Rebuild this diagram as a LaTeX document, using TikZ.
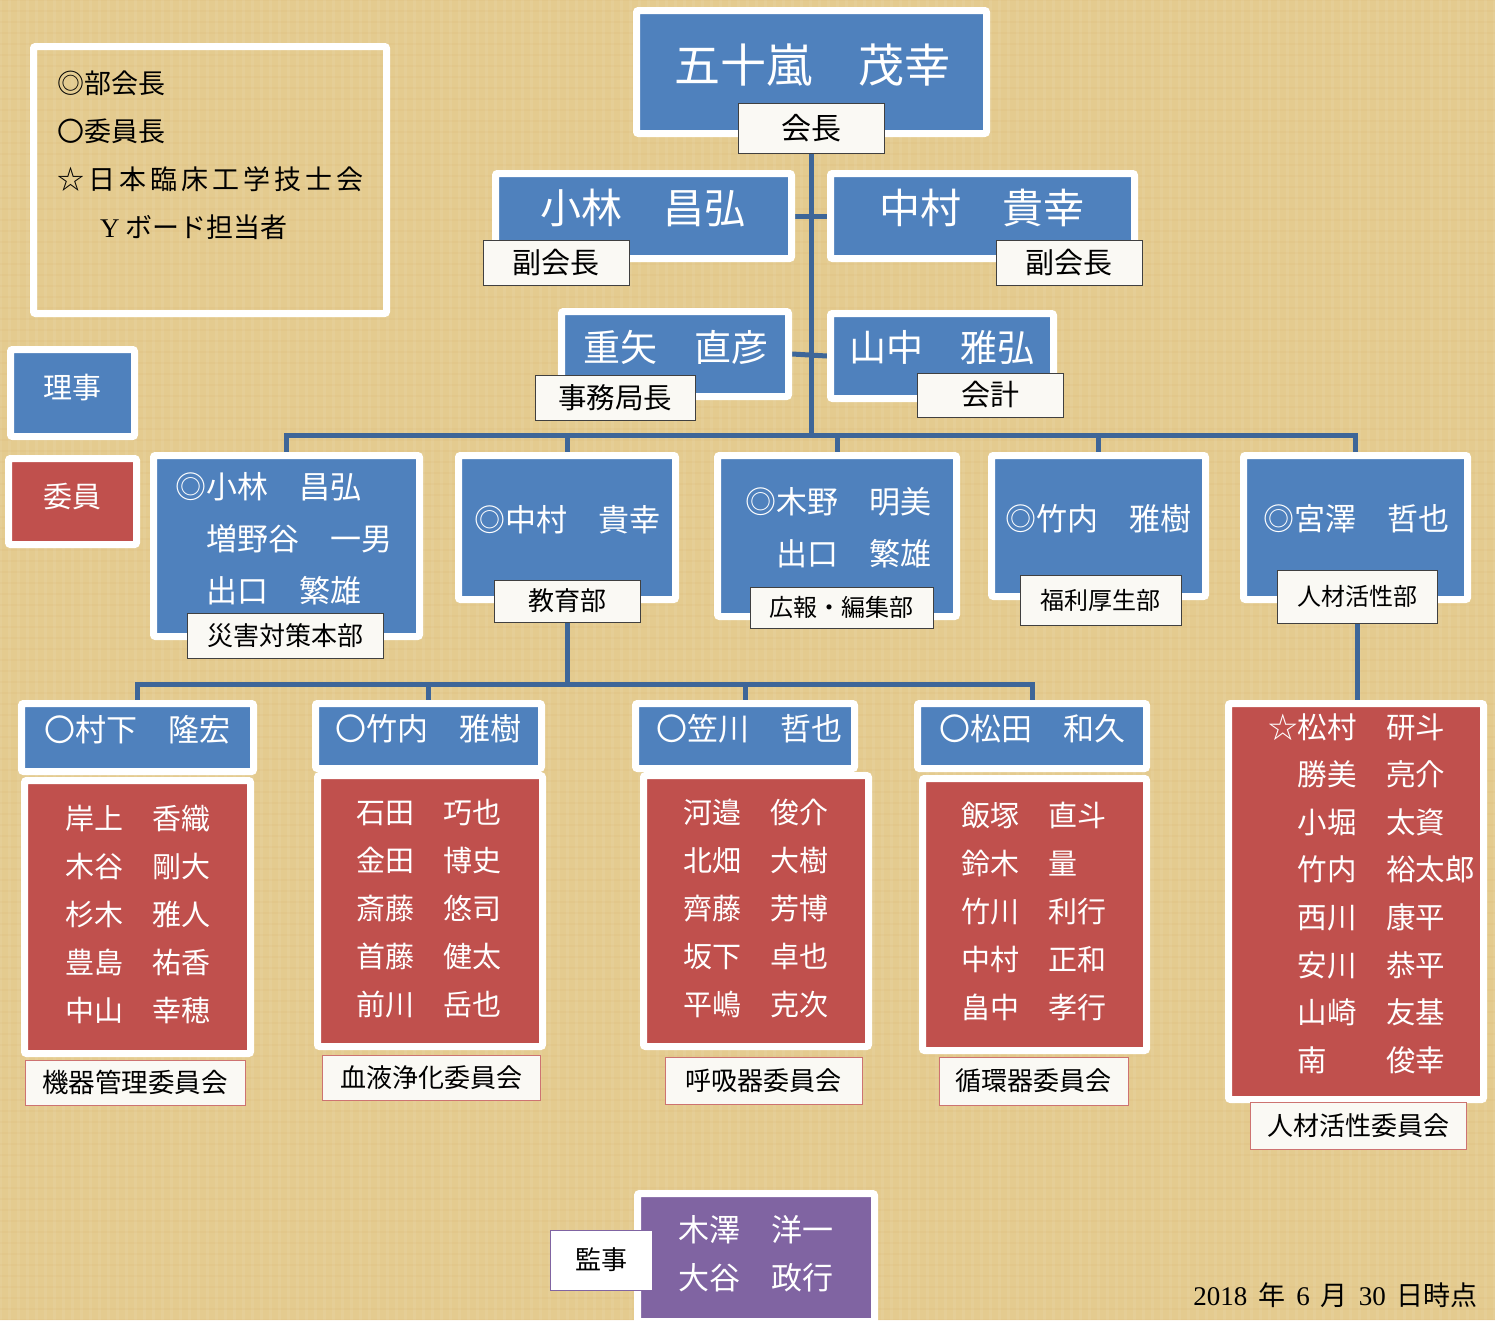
\documentclass[tikz,border=0pt]{standalone}
\usepackage{fontspec}
\setmainfont{Noto Sans CJK JP}
\newfontfamily\latinfont{Liberation Serif}
\usetikzlibrary{positioning,shadows,backgrounds}

\definecolor{parchment}{RGB}{228,203,143}
\definecolor{rijiblue}{RGB}{79,129,189}
\definecolor{iinred}{RGB}{192,80,77}
\definecolor{kansapurple}{RGB}{128,100,162}
\definecolor{linkblue}{RGB}{62,102,152}
\definecolor{tagfill}{RGB}{250,249,244}

\newcommand\kgap{\hspace{4pt}}

\tikzset{
  orgbox/.style 2 args={draw=white, line width=7pt, rounded corners=2pt, inner sep=0pt,
    minimum width=#1pt, minimum height=#2pt,
    drop shadow={opacity=0.25, shadow xshift=2pt, shadow yshift=-2pt}},
  riji/.style={fill=rijiblue},
  iin/.style={fill=iinred},
  kansa/.style={fill=kansapurple},
  nm/.style 2 args={text=white, inner sep=0pt, font=\fontsize{#1}{#2}\selectfont},
  roletag/.style n args={3}{draw=black!75, fill=tagfill, line width=0.8pt, inner sep=0pt,
    minimum width=#1pt, minimum height=#2pt, font=\fontsize{#3}{#3}\selectfont},
  ctag/.style={draw=iinred!80},
  link/.style={draw=linkblue, line width=5pt},
}

\begin{document}
\begin{tikzpicture}[x=1pt,y=-1pt]
\useasboundingbox (0,0) rectangle (1495,1320);

% legend
\node[draw=white, line width=7pt, rounded corners=2pt, minimum width=353pt, minimum height=267pt] (legend) at (210,180) {};
\node[anchor=west, align=left, inner sep=0pt, font=\fontsize{27}{48}\selectfont] (legend-t) at (57,155.5)
  {◎部会長\\〇委員長\\☆\kgap 日\kgap 本\kgap 臨\kgap 床\kgap 工\kgap 学\kgap 技\kgap 士\kgap 会\\\hspace*{43pt}{\latinfont Y} ボード担当者};

\node[orgbox={124}{87}, riji] (key-riji) at (72.5,393) {};
\node[nm={29}{29}] (key-riji-t) at ([yshift=5pt]key-riji.center) {理事};
\node[orgbox={128}{86}, iin] (key-iin) at (72.5,501.5) {};
\node[nm={29}{29}] (key-iin-t) at ([yshift=5pt]key-iin.center) {委員};

% officers
\node[orgbox={350}{123}, riji] (kaicho) at (811.5,72) {};
\node[nm={46}{46}] (kaicho-t) at (812,65) {五十嵐　茂幸};
\node[roletag={146}{50}{30}] (kaicho-tag) at (811,128) {会長};

\node[orgbox={296}{85}, riji] (vice-l) at (643.5,216) {};
\node[nm={41}{41}] (vice-l-t) at (643,208) {小林　昌弘};
\node[roletag={146}{45}{29}] (vice-l-tag) at (556,262.5) {副会長};
\node[orgbox={304}{85}, riji] (vice-r) at (982.5,216) {};
\node[nm={41}{41}] (vice-r-t) at (982,208) {中村　貴幸};
\node[roletag={146}{45}{29}] (vice-r-tag) at (1069,262.5) {副会長};

\node[orgbox={227}{85}, riji] (jimu) at (675,354) {};
\node[nm={37}{37}] (jimu-t) at (676,347) {重矢　直彦};
\node[roletag={160}{45}{28.5}] (jimu-tag) at (615,397.5) {事務局長};
\node[orgbox={223}{85}, riji] (kaikei) at (942,356) {};
\node[nm={37}{37}] (kaikei-t) at (942,348) {山中　雅弘};
\node[roletag={146}{44}{29}] (kaikei-tag) at (990,395) {会計};

% departments
\node[orgbox={266}{181}, riji] (bousai) at (286.5,546) {};
\node[nm={31}{52}, align=left, anchor=west] (bousai-t) at (175,539) {◎小林　昌弘\\　増野谷　一男\\　出口　繁雄};
\node[roletag={196}{45}{26}] (bousai-tag) at (285,635.5) {災害対策本部};

\node[orgbox={217}{144}, riji] (kyoiku) at (567,527.5) {};
\node[nm={31}{31}] (kyoiku-t) at (567,520) {◎中村　貴幸};
\node[roletag={146}{42}{26}] (kyoiku-tag) at (567,601) {教育部};

\node[orgbox={239}{161}, riji] (koho) at (837,536) {};
\node[nm={31}{52}, align=right, anchor=east] (koho-t) at (932,528) {◎木野　明美\\出口　繁雄};
\node[roletag={183}{41}{24}] (koho-tag) at (841.5,607.5) {広報・編集部};

\node[orgbox={214}{141}, riji] (fukuri) at (1098.5,526) {};
\node[nm={31}{31}] (fukuri-t) at (1098,519) {◎竹内　雅樹};
\node[roletag={161}{50}{24}] (fukuri-tag) at (1100.5,600) {福利厚生部};

\node[orgbox={224}{144}, riji] (jinzai) at (1355.5,527.5) {};
\node[nm={31}{31}] (jinzai-t) at (1356,519) {◎宮澤　哲也};
\node[roletag={160}{53}{24}] (jinzai-tag) at (1357,596.5) {人材活性部};

% committee chairs
\node[orgbox={232}{68}, riji] (ch1) at (137.5,737.5) {};
\node[nm={31}{31}] (ch1-t) at (137,730) {〇村下　隆宏};
\node[orgbox={226}{65}, riji] (ch2) at (428.5,736) {};
\node[nm={31}{31}] (ch2-t) at (428,729) {〇竹内　雅樹};
\node[orgbox={219}{65}, riji] (ch3) at (745,736) {};
\node[nm={31}{31}] (ch3-t) at (749,729) {〇笠川　哲也};
\node[orgbox={229}{65}, riji] (ch4) at (1032,736) {};
\node[nm={31}{31}] (ch4-t) at (1032,729) {〇松田　和久};

% committee members
\node[orgbox={226}{273}, iin] (m1) at (137.5,917) {};
\node[nm={29}{48}, align=left] (m1-t) at (137.5,914.5) {岸上　香織\\木谷　剛大\\杉木　雅人\\豊島　祐香\\中山　幸穂};
\node[roletag={220}{45}{26.5}, ctag] (m1-tag) at (135,1082.5) {機器管理委員会};

\node[orgbox={225}{271}, iin] (m2) at (430,911) {};
\node[nm={29}{48}, align=left] (m2-t) at (429,909) {石田　巧也\\金田　博史\\斎藤　悠司\\首藤　健太\\前川　岳也};
\node[roletag={218}{45}{26}, ctag] (m2-tag) at (431,1077.5) {血液浄化委員会};

\node[orgbox={225}{271}, iin] (m3) at (756,911) {};
\node[nm={29}{48}, align=left] (m3-t) at (755.5,908) {河邉　俊介\\北畑　大樹\\齊藤　芳博\\坂下　卓也\\平嶋　克次};
\node[roletag={197}{47}{26}, ctag] (m3-tag) at (763.5,1080.5) {呼吸器委員会};

\node[orgbox={224}{272}, iin] (m4) at (1034.5,914.5) {};
\node[nm={29}{48}, align=left] (m4-t) at (1034,911.5) {飯塚　直斗\\鈴木　量\\竹川　利行\\中村　正和\\畠中　孝行};
\node[roletag={189}{48}{26}, ctag] (m4-tag) at (1033.5,1081) {循環器委員会};

\node[orgbox={255}{396}, iin] (jinzai-iin) at (1356,901.5) {};
\node[nm={29.5}{47.6}, align=left, anchor=west] (jinzai-iin-t) at (1268,893.5)
  {☆松村　研斗\\　勝美　亮介\\　小堀　太資\\　竹内　裕太郎\\　西川　康平\\　安川　恭平\\　山崎　友基\\　南　　俊幸};
\node[roletag={216}{47}{26}, ctag] (jinzai-iin-tag) at (1358,1125.5) {人材活性委員会};

% auditors
\node[orgbox={237}{128}, kansa] (kansa) at (756,1257.5) {};
\node[nm={31}{48}, align=left] (kansa-t) at (756,1254) {木澤　洋一\\大谷　政行};
\node[roletag={102}{60}{26}, draw=kansapurple, fill=white] (kansa-tag) at (601,1260) {監事};

\node[anchor=east, inner sep=0pt, font=\fontsize{27}{27}\selectfont] (date) at (1478,1295)
  {{\latinfont 2018}\hspace{11pt}年\hspace{11pt}{\latinfont 6}\hspace{11pt}月\hspace{11pt}{\latinfont 30}\hspace{11pt}日時点};

\begin{pgfonlayer}{background}
\fill[parchment] (0,0) rectangle (1495,1320);
% woven texture
\foreach \x in {0,9,...,1495}
  \draw[white, opacity=0.07, line width=3pt] (\x,0) -- (\x,1320);
\foreach \y in {0,11,...,1320}
  \draw[brown, opacity=0.05, line width=2pt] (0,\y) -- (1495,\y);
\coordinate (hub1) at (811,435);
\coordinate (hub2) at (567,684);
\draw[link] (kaicho-tag.south) -- (hub1);
\draw[link] (vice-l.east) -- (vice-r.west);
\draw[link] (jimu.east) -- (kaikei.west);
\draw[link] (bousai.north) |- (hub1) -| (jinzai.north);
\foreach \d in {kyoiku,koho,fukuri}
  \draw[link] (\d.north) -- (\d.north |- hub1);
\draw[link] (kyoiku-tag.south) -- (hub2);
\draw[link] (ch1.north) |- (hub2) -| (ch4.north);
\foreach \c in {ch2,ch3}
  \draw[link] (\c.north) -- (\c.north |- hub2);
\draw[link] (jinzai-tag.south) -- (jinzai-tag.south |- jinzai-iin.north);
\end{pgfonlayer}
\end{tikzpicture}
\end{document}
